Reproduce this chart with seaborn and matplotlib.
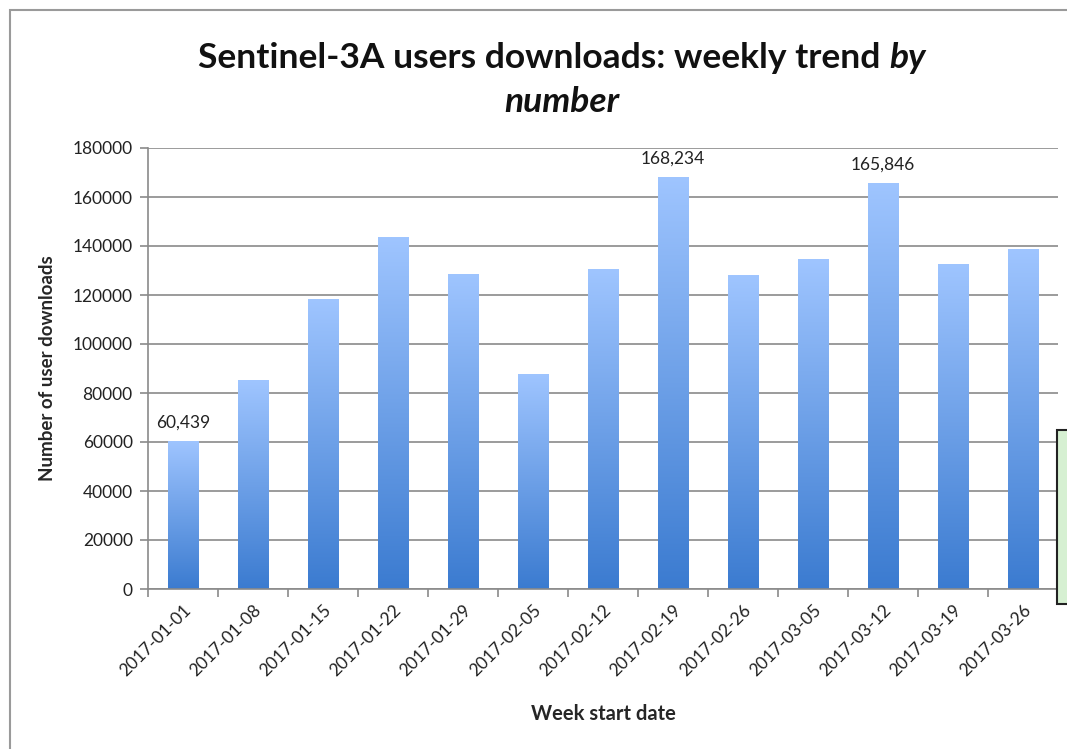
import matplotlib
matplotlib.use("Agg")
import matplotlib.pyplot as plt
import numpy as np
import pandas as pd
import seaborn as sns
from matplotlib.colors import LinearSegmentedColormap
from matplotlib.patches import Rectangle
from matplotlib.ticker import FixedLocator

WEEKS = [
    "2017-01-01", "2017-01-08", "2017-01-15", "2017-01-22", "2017-01-29",
    "2017-02-05", "2017-02-12", "2017-02-19", "2017-02-26", "2017-03-05",
    "2017-03-12", "2017-03-19", "2017-03-26",
]
DOWNLOADS = [
    60439, 85300, 118200, 143500, 128700, 87800, 130500,
    168234, 128000, 134600, 165846, 132800, 138600,
]
LABELLED = ["2017-01-01", "2017-02-19", "2017-03-12"]
Y_TICKS = [0, 20000, 40000, 60000, 80000, 100000, 120000, 140000, 160000, 180000]

sns.set_theme(style="white")
plt.rcParams["font.family"] = ["Lato", "DejaVu Sans"]

df = pd.DataFrame({"week": WEEKS, "downloads": DOWNLOADS})

fig = plt.figure(figsize=(10.67, 7.49), dpi=100)
ax = fig.add_axes([148 / 1067, 1 - 589 / 749, (1058 - 148) / 1067, (589 - 148) / 749])

sns.barplot(data=df, x="week", y="downloads", width=0.43, ax=ax, zorder=2)

# vertical gradient inside each bar, light on top, darker blue at the bottom
grad_cmap = LinearSegmentedColormap.from_list("bar", ["#3b7bd0", "#9fc5ff"])
gradient = np.linspace(0, 1, 256).reshape(-1, 1)
for patch in ax.patches:
    x0, w, h = patch.get_x(), patch.get_width(), patch.get_height()
    im = ax.imshow(gradient, cmap=grad_cmap, origin="lower", aspect="auto",
                   extent=[x0, x0 + w, 0, h], zorder=2)
    im.set_clip_path(patch)
    patch.set_facecolor("none")
    patch.set_edgecolor("none")

for week, value in zip(WEEKS, DOWNLOADS):
    if week in LABELLED:
        ax.text(WEEKS.index(week), value + 4000, f"{value:,}", ha="center", va="bottom",
                fontsize=12.5, color="#222222")

ax.set_xlim(-0.5, len(WEEKS) - 0.5)
ax.set_ylim(0, 180000)
ax.set_yticks(Y_TICKS)
ax.set_yticklabels([str(t) for t in Y_TICKS], fontsize=12.5, color="#222222")
ax.yaxis.grid(True, color="#8a8a8a", linewidth=1.2)
ax.set_axisbelow(True)

ax.xaxis.set_major_locator(FixedLocator(range(len(WEEKS))))
ax.set_xticklabels(WEEKS, rotation=45, ha="right", rotation_mode="anchor", fontsize=12.5,
                   color="#222222")
ax.xaxis.set_minor_locator(FixedLocator(np.arange(-0.5, len(WEEKS), 1.0)))
ax.tick_params(axis="x", which="major", length=0, pad=9)
ax.tick_params(axis="x", which="minor", length=6, color="#8a8a8a", width=1.2, bottom=True,
               direction="out")
ax.tick_params(axis="y", length=6, color="#8a8a8a", width=1.2, left=True, direction="out",
               pad=5)

for side in ["top", "right"]:
    ax.spines[side].set_visible(False)
for side in ["left", "bottom"]:
    ax.spines[side].set_color("#8a8a8a")
    ax.spines[side].set_linewidth(1.2)

ax.set_xlabel("Week start date", fontsize=14.5, fontweight="bold", labelpad=18)
ax.set_ylabel("Number of user downloads", fontsize=13.5, fontweight="bold", labelpad=12)

# title with an italic tail, built from pieces
fig.canvas.draw()
renderer = fig.canvas.get_renderer()
title_kw = dict(fontsize=25.5, fontweight="bold", color="#111111", va="center")
t1 = fig.text(0, 1 - 58 / 749, "Sentinel-3A users downloads: weekly trend ", ha="left", **title_kw)
t2 = fig.text(0, 1 - 58 / 749, "by", ha="left", style="italic", **title_kw)
w1 = t1.get_window_extent(renderer).width / fig.bbox.width
w2 = t2.get_window_extent(renderer).width / fig.bbox.width
start = 562 / 1067 - (w1 + w2) / 2
t1.set_x(start)
t2.set_x(start + w1)
fig.text(562 / 1067, 1 - 102 / 749, "number", ha="center", style="italic", **title_kw)

# outer chart frame and clipped legend box on the right
fig.patches.append(Rectangle((10 / 1067, -0.1), 1.2, 1.1 - 10 / 749, transform=fig.transFigure,
                             facecolor="none", edgecolor="#9a9a9a", linewidth=1.5))
fig.patches.append(Rectangle((1057 / 1067, 1 - 604 / 749), 0.1, (604 - 430) / 749,
                             transform=fig.transFigure, facecolor="#d6f0d2",
                             edgecolor="#222222", linewidth=1.5, zorder=5))

fig.savefig("out.png", dpi=100)
